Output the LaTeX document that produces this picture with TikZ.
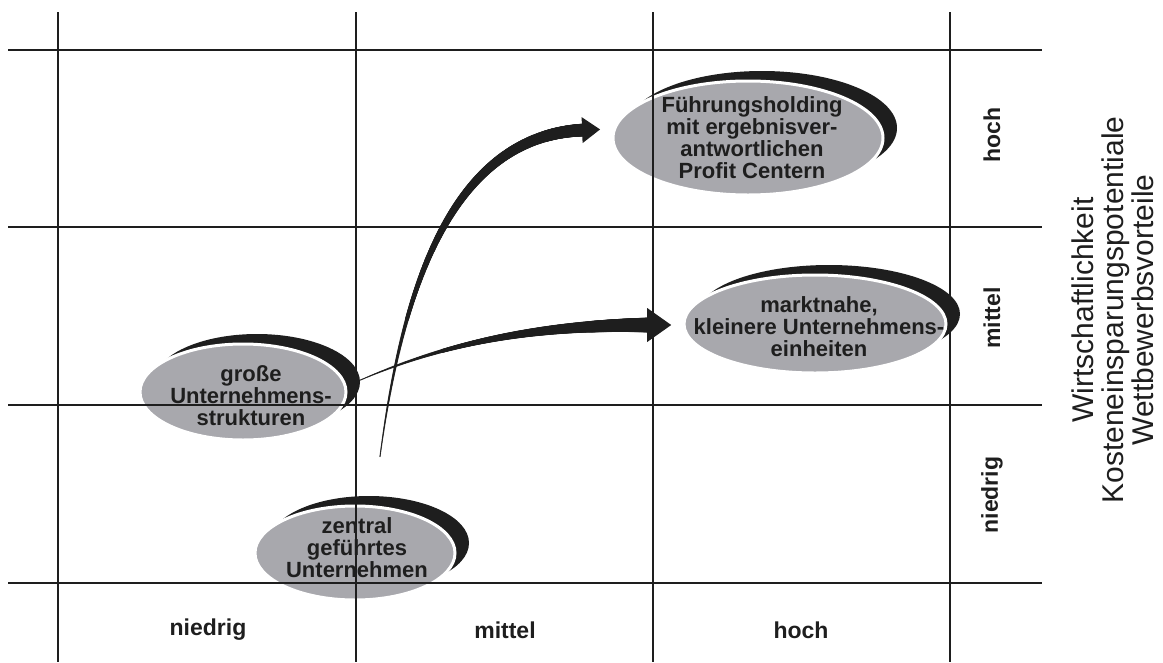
\documentclass[tikz,border=0pt]{standalone}
\usepackage{fontspec}
\setmainfont{Liberation Sans}
\usetikzlibrary{shapes.geometric, shadows, decorations.markings}

\definecolor{ink}{RGB}{30,30,30}
\definecolor{cellgrey}{RGB}{168,168,173}

\begin{document}
\begin{tikzpicture}[
    x=1pt, y=-1pt,
    grid/.style={draw=ink, line width=2.3pt},
    blob/.style={
        ellipse, fill=cellgrey, draw=white, line width=3pt, inner sep=0pt,
        drop shadow={shadow xshift=14pt, shadow yshift=10pt, fill=ink, opacity=1}
    },
    blobtext/.style={
        font=\fontsize{22}{22}\selectfont\bfseries, text=ink, align=center
    },
    axislabel/.style={font=\fontsize{23}{23}\selectfont\bfseries, text=ink},
    tapered/.style n args={3}{
        postaction={decorate, decoration={markings,
            mark=between positions 0 and 1 step 0.6pt with {
                \pgfmathsetmacro{\tapr}{0.6+(#1/2-0.6)*(\pgfkeysvalueof{/pgf/decoration/mark info/distance from start}/\pgfdecoratedpathlength)^1.3}
                \fill[ink] (0pt,0pt) circle (\tapr pt);
            }}},
        postaction={decorate, decoration={markings,
            mark=at position 0.999 with {
                \fill[ink] (-2pt,#3) -- (#2,0pt) -- (-2pt,-#3) -- cycle;
            }}}
    },
]

\useasboundingbox (0,0) rectangle (1163,662);

% ============ Ellipses ============
\node[blob, minimum width=270pt, minimum height=114pt] (fuehrung) at (748,138) {};
\node[blob, minimum width=262pt, minimum height=98pt] (markt) at (815,324) {};
\node[blob, minimum width=206pt, minimum height=96pt] (grosse) at (243,392) {};
\node[blob, minimum width=200pt, minimum height=94pt] (zentral) at (355,553) {};

\node[blobtext] (fuehrungtxt) at (752,138) {Führungsholding\\mit ergebnisver-\\antwortlichen\\Profit Centern};
\node[blobtext] (markttxt) at (819,327) {marktnahe,\\kleinere Unternehmens-\\einheiten};
\node[blobtext] (grossetxt) at (251,396) {große\\Unternehmens-\\strukturen};
\node[blobtext] (zentraltxt) at (357,548) {zentral\\geführtes\\Unternehmen};

% ============ Arrows ============
\path[tapered={13}{16pt}{13pt}] ([xshift=25pt,yshift=48pt]zentral.north)
    .. controls +(20,-150) and +(-140,5) .. ([xshift=-27pt,yshift=8pt]fuehrung.west);
\path[tapered={15}{22pt}{17pt}] ([xshift=13pt,yshift=12pt]grosse.east)
    .. controls +(88,-38) and +(-111,0) .. ([xshift=-33pt,yshift=-1pt]markt.west);

% ============ Grid ============
\foreach \x in {58,356,653,950}
    \draw[grid] (\x,12) -- (\x,662);
\foreach \y in {50,227,405,583}
    \draw[grid] (8,\y) -- (1042,\y);

% ============ Axis labels ============
\node[axislabel] (xlow) at (208,630) {niedrig};
\node[axislabel] (xmid) at (505,630) {mittel};
\node[axislabel] (xhigh) at (801,630) {hoch};

\node[axislabel, rotate=90] (yhigh) at (992,135) {hoch};
\node[axislabel, rotate=90] (ymid) at (992,318) {mittel};
\node[axislabel, rotate=90] (ylow) at (992,495) {niedrig};

\node[rotate=90, align=center, font=\fontsize{30}{30}\selectfont, text=ink] (axistitle)
    at (1113,310) {Wirtschaftlichkeit\\Kosteneinsparungspotentiale\\Wettbewerbsvorteile};

\end{tikzpicture}
\end{document}
